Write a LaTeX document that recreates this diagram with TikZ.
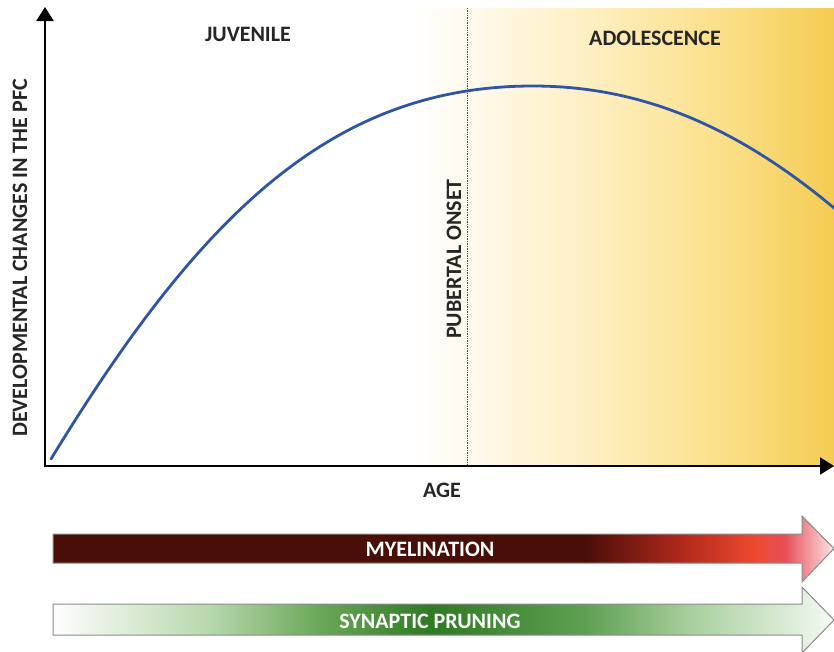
\documentclass[tikz,border=0pt]{standalone}
\usepackage{fontspec}
\setmainfont{Carlito}
\usetikzlibrary{arrows.meta}
\definecolor{curveblue}{HTML}{2F56A6}
\definecolor{maroon}{HTML}{4A0E09}
\definecolor{outl}{HTML}{8C8C8C}
\definecolor{txt}{HTML}{262626}
\begin{document}
\begin{tikzpicture}[x=1pt,y=-1pt,
  lbl/.style={font=\bfseries\fontsize{22}{24}\selectfont, text=txt, inner sep=0pt},
  arrlbl/.style={font=\bfseries\fontsize{22}{24}\selectfont, text=white, inner sep=0pt},
  axisline/.style={line width=2.2pt, -{Triangle[length=14pt,width=17pt]}},
  curve/.style={line width=2.8pt, curveblue, line cap=round},
  outline/.style={draw=outl, line width=1pt, line join=miter}]
\useasboundingbox (0,0) rectangle (834,651);
\fill[white] (0,0) rectangle (834,651);
% yellow background
\shade[left color=white, right color={rgb,255:red,255;green,250;blue,238}] (410,8) rectangle (467.5,466);
\shade[left color={rgb,255:red,255;green,250;blue,238}, right color={rgb,255:red,254;green,238;blue,190}] (467,8) rectangle (600.5,466);
\shade[left color={rgb,255:red,254;green,238;blue,190}, right color={rgb,255:red,250;green,222;blue,132}] (600,8) rectangle (733.5,466);
\shade[left color={rgb,255:red,250;green,222;blue,132}, right color={rgb,255:red,245;green,204;blue,82}] (733,8) rectangle (834,466);
% coordinates
\coordinate (O) at (45,466);
\coordinate (ytop) at (45,7);
\coordinate (xend) at (834,466);
\coordinate (dtop) at (467,8);
\coordinate (dbot) at (467,464);
\coordinate (cstart) at (51,459);
\coordinate (cpeak) at (533,86);
\coordinate (cend) at (840,213);
% puberty line
\draw[densely dotted, line width=0.7pt, black!70] (dtop) -- (dbot);
% curve
\begin{scope}
\clip (0,0) rectangle (834,651);
\draw[curve] (cstart) .. controls (201,213) and (333,86) .. (cpeak)
                      .. controls (643,86) and (740,128) .. (cend);
\end{scope}
% axes
\draw[axisline] (45,467.1) -- (ytop);
\draw[axisline] (44,466) -- (xend);
% labels
\node[lbl] (juv) at (248,34) {JUVENILE};
\node[lbl] (ado) at (655,38) {ADOLESCENCE};
\node[lbl, rotate=90] (ylab) at (20,258) {DEVELOPMENTAL CHANGES IN THE PFC};
\node[lbl, rotate=90] (pub) at (454,259) {PUBERTAL ONSET};
\node[lbl] (age) at (442,490) {AGE};
% myelination arrow
\def\myel{(53,534) -- (802,534) -- (802,516) -- (834,548.5) -- (802,582) -- (802,563) -- (53,563) -- cycle}
\begin{scope}
\clip \myel;
\fill[maroon] (50,510) rectangle (586,590);
\shade[left color=maroon, right color={rgb,255:red,176;green,40;blue,28}] (585,510) rectangle (681,590);
\shade[left color={rgb,255:red,176;green,40;blue,28}, right color={rgb,255:red,236;green,74;blue,48}] (680,510) rectangle (756,590);
\shade[left color={rgb,255:red,236;green,74;blue,48}, right color={rgb,255:red,232;green,80;blue,90}] (755,510) rectangle (786,590);
\shade[left color={rgb,255:red,232;green,80;blue,90}, right color={rgb,255:red,252;green,234;blue,234}] (785,510) rectangle (836,590);
\end{scope}
\draw[outline] \myel;
\node[arrlbl] (myl) at (430,549) {MYELINATION};
% synaptic pruning arrow
\def\syn{(53,604) -- (802,604) -- (802,587) -- (834,620) -- (802,653) -- (802,635) -- (53,635) -- cycle}
\begin{scope}
\clip \syn;
\shade[left color=white, right color={rgb,255:red,181;green,214;blue,170}] (50,580) rectangle (214,660);
\shade[left color={rgb,255:red,181;green,214;blue,170}, right color={rgb,255:red,106;green,168;blue,88}] (213,580) rectangle (320,660);
\shade[left color={rgb,255:red,106;green,168;blue,88}, right color={rgb,255:red,47;green,122;blue,34}] (319,580) rectangle (431,660);
\shade[left color={rgb,255:red,47;green,122;blue,34}, right color={rgb,255:red,95;green,160;blue,82}] (430,580) rectangle (586,660);
\shade[left color={rgb,255:red,95;green,160;blue,82}, right color={rgb,255:red,169;green,207;blue,158}] (585,580) rectangle (691,660);
\shade[left color={rgb,255:red,169;green,207;blue,158}, right color={rgb,255:red,226;green,239;blue,222}] (690,580) rectangle (801,660);
\shade[left color={rgb,255:red,226;green,239;blue,222}, right color={rgb,255:red,248;green,251;blue,247}] (800,580) rectangle (836,660);
\end{scope}
\draw[outline] \syn;
\node[arrlbl] (syl) at (430,621) {SYNAPTIC PRUNING};
\end{tikzpicture}
\end{document}
